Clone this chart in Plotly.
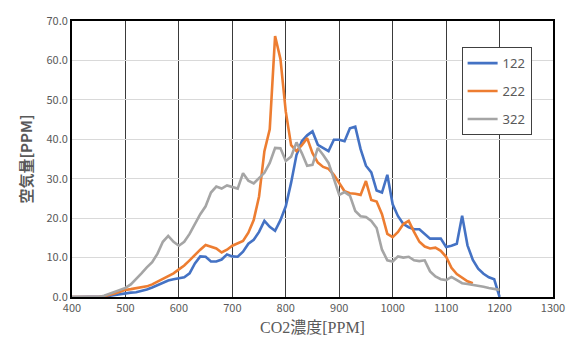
import plotly.graph_objects as go

# CO2 concentration grid [PPM]
co2 = list(range(400, 1210, 10))

s122 = [0, 0, 0, 0, 0, 0, 0.1, 0.3, 0.5, 0.8,
        1.0, 1.1, 1.2, 1.5, 1.9, 2.4, 3.0, 3.7, 4.2, 4.5,
        4.8, 5.0, 6.0, 8.5, 10.3, 10.2, 9.0, 9.0, 9.5, 10.8,
        10.3, 10.2, 11.5, 13.5, 14.5, 16.5, 19.3, 17.8, 16.8, 19.5,
        23.0, 29.0, 36.0, 39.5, 41.0, 42.0, 38.6, 37.8, 37.0, 39.9,
        39.9, 39.5, 42.8, 43.2, 37.5, 33.3, 31.6, 27.0, 26.5, 31.0,
        23.5, 20.5, 18.5, 17.7, 17.2, 17.2, 16.0, 14.8, 14.8, 14.8,
        12.7, 13.0, 13.5, 20.6, 13.1, 9.4, 7.2, 5.9, 5.0, 4.5,
        0]

s222 = [0, 0, 0, 0, 0, 0, 0.2, 0.5, 0.9, 1.3,
        1.8, 2.0, 2.2, 2.4, 2.7, 3.2, 3.9, 4.6, 5.2, 6.0,
        7.0, 8.0, 9.3, 10.7, 12.0, 13.2, 12.7, 12.3, 11.3, 12.0,
        13.0, 13.6, 14.2, 16.3, 19.5, 25.5, 37.0, 42.5, 66.2, 60.4,
        47.0, 38.5, 37.0, 38.5, 40.3, 36.5, 34.1, 33.0, 32.5, 31.0,
        29.0, 26.8, 26.3, 26.2, 25.9, 29.4, 24.6, 24.2, 21.0, 16.0,
        15.2, 16.5, 18.5, 19.3, 16.5, 14.0, 12.8, 12.3, 12.5, 11.7,
        10.2, 7.4, 5.8, 4.8, 4.0, 3.5]

s322 = [0, 0, 0, 0, 0, 0, 0.3, 0.8, 1.2, 1.6,
        2.3, 3.2, 4.5, 6.0, 7.5, 8.8, 11.0, 14.0, 15.5, 14.0,
        13.0, 14.0, 16.0, 18.5, 21.0, 23.0, 26.5, 28.0, 27.5, 28.3,
        27.9, 27.5, 31.4, 29.5, 28.8, 30.2, 31.5, 34.0, 37.8, 37.7,
        34.5, 35.6, 39.2, 36.5, 33.3, 33.5, 37.8, 36.0, 34.0, 30.0,
        25.9, 26.6, 25.7, 21.8, 20.5, 20.3, 19.3, 17.5, 12.0, 9.3,
        9.0, 10.3, 10.0, 10.2, 9.3, 9.1, 9.3, 6.5, 5.2, 4.5,
        4.3, 5.1, 4.3, 3.5, 3.3, 3.1, 2.8, 2.6, 2.3, 2.1,
        1.8]

series = [("122", s122, "#4472C4"),
          ("222", s222, "#ED7D31"),
          ("322", s322, "#A5A5A5")]

fig = go.Figure()
for name, vals, color in series:
    fig.add_trace(go.Scatter(
        x=co2[:len(vals)], y=vals, name=name, mode="lines",
        legendgroup=name,
        line=dict(color=color, width=2.6),
    ))

fig.update_layout(
    width=577, height=349,
    margin=dict(l=72, r=21, t=13, b=52),
    paper_bgcolor="white", plot_bgcolor="white",
    font=dict(family="Noto Sans CJK JP, Noto Sans", color="#595959", size=11),
    legend=dict(
        x=0.81, y=0.905, xanchor="left", yanchor="top",
        bordercolor="#404040", borderwidth=1, bgcolor="white",
        font=dict(size=13, color="#595959", family="Noto Sans"),
        tracegroupgap=8,
    ),
    xaxis=dict(
        range=[400, 1300], dtick=100, tick0=400,
        showgrid=True, gridcolor="#3a3a3a", gridwidth=1,
        showline=True, linecolor="black", linewidth=2, mirror=True,
        ticks="", zeroline=False,
        tickfont=dict(size=11, color="#595959"),
        title=dict(text="CO2濃度[PPM]", standoff=8,
                   font=dict(family="Liberation Serif, Noto Sans CJK JP", size=16, color="#595959")),
    ),
    yaxis=dict(
        range=[0, 70], dtick=10, tickformat=".1f",
        showgrid=True, gridcolor="#d9d9d9", gridwidth=1,
        showline=True, linecolor="black", linewidth=2, mirror=True,
        ticks="", zeroline=False,
        tickfont=dict(size=11, color="#595959"),
        title=dict(text="<b>空気量[PPM]</b>", standoff=10,
                   font=dict(family="Noto Sans CJK JP", size=15, color="#595959")),
    ),
)

fig.write_html("out.html")
